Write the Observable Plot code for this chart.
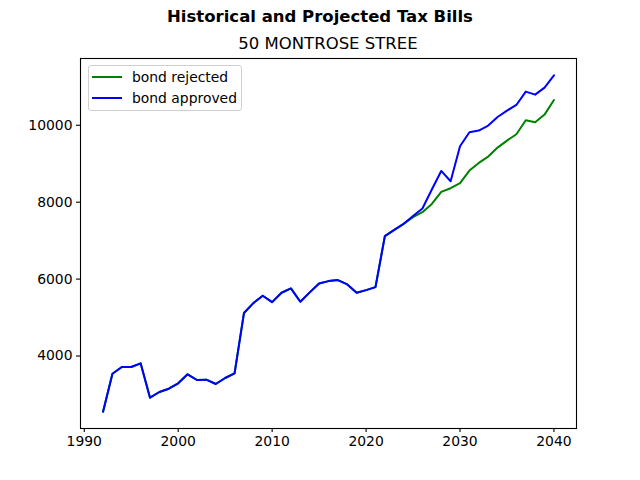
<!DOCTYPE html>
<html>
<head>
<meta charset="utf-8">
<script src="https://cdn.jsdelivr.net/npm/d3@7"></script>
<script src="https://cdn.jsdelivr.net/npm/@observablehq/plot@0.6"></script>
<style>
  html, body { margin: 0; padding: 0; background: #fff; }
  #wrap { position: relative; width: 640px; height: 480px; font-family: "DejaVu Sans", sans-serif; }
  #title { position: absolute; left: 0; width: 640px; top: 7px; text-align: center; font-weight: bold; font-size: 16.5px; line-height: 20px; }
  #subtitle { position: absolute; left: 80px; width: 496px; top: 34px; text-align: center; font-size: 16.5px; line-height: 20px; }
  #legend { position: absolute; left: 88px; top: 65px; width: 152px; height: 44px; border: 1px solid #d0d0d0; border-radius: 3px; background: rgba(255,255,255,0.8); font-size: 13.9px; }
  .item { position: absolute; left: 0; height: 20px; display: flex; align-items: center; }
  .item svg { margin-left: 3px; margin-right: 10px; }
  svg.plot { position: absolute; left: 0; top: 0; }
</style>
</head>
<body>
<div id="wrap">
  <div id="title">Historical and Projected Tax Bills</div>
  <div id="subtitle">50 MONTROSE STREE</div>
</div>
<script>
const years = d3.range(1992, 2041);
const historical = [2553, 3540, 3714, 3714, 3810, 2917, 3065, 3150, 3290, 3525, 3377, 3385, 3273, 3429, 3550,
  5117, 5376, 5566, 5402, 5645, 5758, 5410, 5654, 5888, 5948, 5974, 5862, 5645, 5714, 5792,
  7116, 7280, 7437];
const projectedRejected = [7610, 7740, 7955, 8267, 8363, 8493, 8822, 9020, 9185, 9419, 9601, 9765, 10129, 10077, 10277, 10656];
const projectedApproved = [7640, 7835, 8330, 8812, 8545, 9454, 9818, 9861, 9991, 10215, 10381, 10527, 10874, 10796, 10978, 11298];
const seriesNames = ["bond rejected", "bond approved"];
const seriesColors = ["green", "blue"];
const xTicks = [1990, 2000, 2010, 2020, 2030, 2040];
const yTicks = [4000, 6000, 8000, 10000];

const bondRejected = historical.concat(projectedRejected);
const bondApproved = historical.concat(projectedApproved);
const rows = [];
years.forEach((y, i) => rows.push({year: y, value: bondRejected[i], series: seriesNames[0]}));
years.forEach((y, i) => rows.push({year: y, value: bondApproved[i], series: seriesNames[1]}));

const allVals = bondRejected.concat(bondApproved);
const ymin = d3.min(allVals), ymax = d3.max(allVals);
const xmin = d3.min(years), xmax = d3.max(years);
const ypad = (ymax - ymin) * 0.05, xpad = (xmax - xmin) * 0.05;

const chart = Plot.plot({
  width: 640,
  height: 480,
  marginTop: 58,
  marginBottom: 52,
  marginLeft: 80,
  marginRight: 64,
  style: {fontFamily: "DejaVu Sans, sans-serif", fontSize: "13.9px", color: "black", background: "transparent"},
  x: {domain: [xmin - xpad, xmax + xpad]},
  y: {domain: [ymin - ypad, ymax + ypad]},
  color: {domain: seriesNames, range: seriesColors},
  marks: [
    Plot.line(rows, {x: "year", y: "value", z: "series", stroke: "series", strokeWidth: 2}),
    Plot.frame({stroke: "black", strokeWidth: 1.1}),
    Plot.axisX({ticks: xTicks, tickFormat: d => String(d), tickSize: 4, tickPadding: 4, label: null, strokeWidth: 1.1}),
    Plot.axisY({ticks: yTicks, tickFormat: d => String(d), tickSize: 4, tickPadding: 4, label: null, strokeWidth: 1.1})
  ]
});
chart.classList.add("plot");
const wrap = document.getElementById("wrap");
wrap.insertBefore(chart, wrap.firstChild);

const legend = document.createElement("div");
legend.id = "legend";
seriesNames.forEach((name, i) => {
  const item = document.createElement("div");
  item.className = "item";
  item.style.top = (1 + i * 21) + "px";
  item.innerHTML = `<svg width="30" height="4"><line x1="0" x2="30" y1="2" y2="2" stroke="${seriesColors[i]}" stroke-width="2"/></svg><span>${name}</span>`;
  legend.appendChild(item);
});
wrap.appendChild(legend);
</script>
</body>
</html>
